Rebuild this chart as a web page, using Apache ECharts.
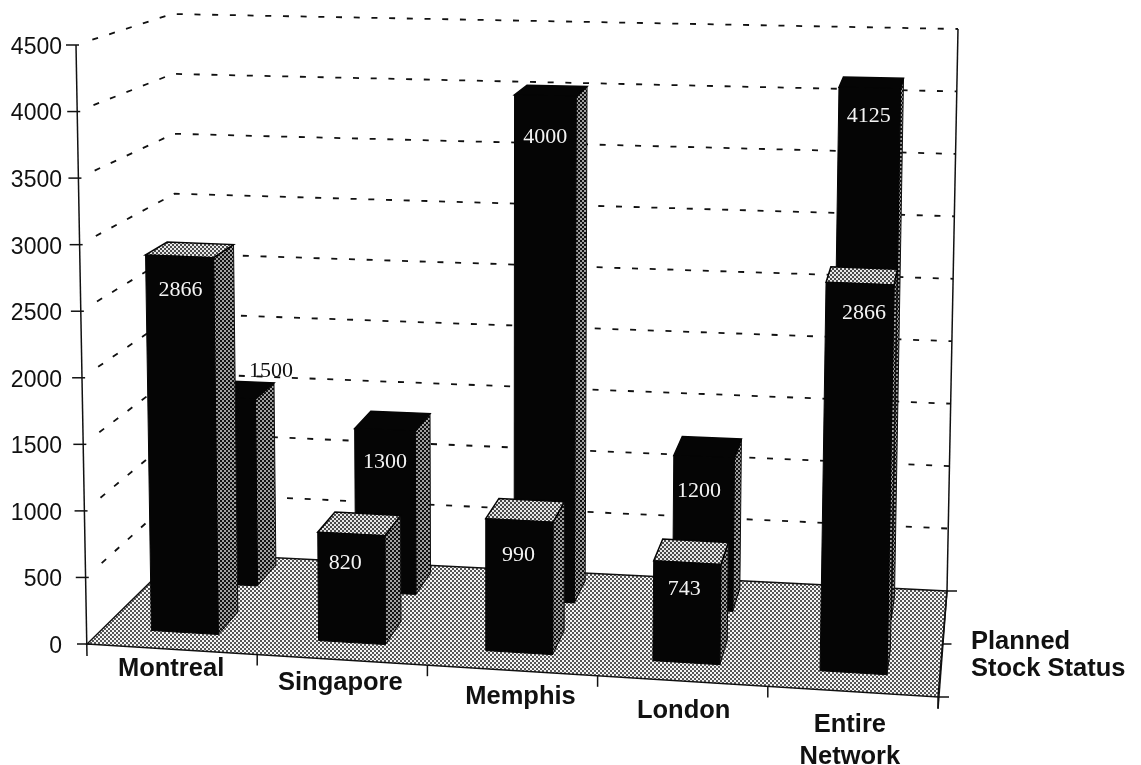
<!DOCTYPE html>
<html>
<head>
<meta charset="utf-8">
<title>Planned stock status by location</title>
<script src="https://cdn.jsdelivr.net/npm/echarts@6/dist/echarts.min.js"></script>
<style>
  html, body { margin: 0; padding: 0; background: #fff; }
  #chart { width: 1141px; height: 765px; }
</style>
</head>
<body>
<div id="chart"></div>
<script>
// Chart values
const categories = ['Montreal', 'Singapore', 'Memphis', 'London', 'Entire\nNetwork'];
const frontRowValues = [2866, 820, 990, 743, 2866];
const backRowValues = [1500, 1300, 4000, 1200, 4125];
const valueTicks = [0, 500, 1000, 1500, 2000, 2500, 3000, 3500, 4000, 4500];
const depthLabel = 'Planned\nStock Status';

// Screen corners of the floor, and the height and lean of the box above each corner.
const FLOOR = { a: [87, 644], b: [938, 697], c: [947, 591], d: [180, 553] };
const RISE = { a: 599, b: 625, c: 562, d: 539 };
const LEAN = { a: -11, b: 13, c: 11, d: -8 };

// Bar rows in depth, with small hand placements for the value captions.
const FRONT_ROW = {
  near: 0.18, far: 0.42, share: 0.4, shift: -0.003,
  nudge: [[1, 4], [-6, -1], [-1, 5], [-3, -3], [4, 0]]
};
const BACK_ROW = {
  near: 0.70, far: 0.925, share: 0.38, shift: -0.005,
  nudge: [[-3, 5], [0, 2], [0, 12], [-5, 4], [-1, -2]]
};
const NAME_NUDGE = [-1, -2, 8, 1, -3];

function blend(q, u, v) {
  return q.a * (1 - u) * (1 - v) + q.b * u * (1 - v) + q.c * u * v + q.d * (1 - u) * v;
}

// u: across the chart 0..1, v: into the chart 0..1, t: share of the value axis 0..1.
function project(u, v, t) {
  const fx = blend({ a: FLOOR.a[0], b: FLOOR.b[0], c: FLOOR.c[0], d: FLOOR.d[0] }, u, v);
  const fy = blend({ a: FLOOR.a[1], b: FLOOR.b[1], c: FLOOR.c[1], d: FLOOR.d[1] }, u, v);
  return [fx + t * blend(LEAN, u, v), fy - t * blend(RISE, u, v)];
}

function ditherPattern(cell, dark, light) {
  const c = document.createElement('canvas');
  c.width = c.height = cell * 2;
  const g = c.getContext('2d');
  g.fillStyle = light;
  g.fillRect(0, 0, cell * 2, cell * 2);
  g.fillStyle = dark;
  g.fillRect(0, 0, cell, cell);
  g.fillRect(cell, cell, cell, cell);
  return { image: c, repeat: 'repeat' };
}

const floorFill = ditherPattern(2, '#565656', '#f6f6f6');
const capFill = ditherPattern(2, '#4a4a4a', '#e8e8e8');
const sideFill = ditherPattern(2, '#111', '#a0a0a0');

// Helpers reading the library's scales inside renderItem.
function shareU(params, api, idx) {
  const cs = params.coordSys;
  return (api.coord([idx, 0])[0] - cs.x) / cs.width;
}
function shareT(params, api, value) {
  const cs = params.coordSys;
  return (cs.y + cs.height - api.coord([0, value])[1]) / cs.height;
}

const inkLine = { stroke: '#111', lineWidth: 1.5, fill: null };

function line(points, style) {
  return { type: 'polyline', shape: { points }, style: Object.assign({}, inkLine, style) };
}

// One dashed level running along the left wall and the back wall.
function renderLevel(params, api) {
  const t = shareT(params, api, api.value(1));
  const start = project(0, 0, t), corner = project(0, 1, t), end = project(1, 1, t);
  const s = 0.17;
  const first = [start[0] + (corner[0] - start[0]) * s, start[1] + (corner[1] - start[1]) * s];
  const children = [];
  if (api.value(1) > 0) {
    children.push(line([first, corner, end], { lineDash: [6, 11.7], lineWidth: 1.8 }));
  }
  children.push(line([[start[0] - 10, start[1]], [start[0] + 3, start[1]]], {}));
  return { type: 'group', children };
}

// Floor, axis frame and their tick marks.
function renderFloor(params, api) {
  const top = shareT(params, api, 4500);
  const A = project(0, 0, 0), B = project(1, 0, 0), C = project(1, 1, 0), D = project(0, 1, 0);
  const children = [
    { type: 'polygon', shape: { points: [A, B, C, D] },
      style: { fill: floorFill, stroke: '#111', lineWidth: 1.5 } },
    line([[A[0], A[1] + 12], project(0, 0, top)], {}),
    line([C, project(1, 1, top)], {}),
    line([[B[0], B[1] + 12], C], {}),
    line([C, [C[0] + 10, C[1]]], {}),
    line([B, [B[0] + 11, B[1]]], {})
  ];
  const mid = project(1, 0.5, 0);
  children.push(line([mid, [mid[0] + 9, mid[1]]], {}));
  for (let i = 1; i <= categories.length; i++) {
    const p = project(i / categories.length, 0, 0);
    children.push(line([p, [p[0], p[1] + 11]], {}));
  }
  children.push({
    type: 'text',
    style: { text: depthLabel, x: 971, y: 655, fill: '#111', font: 'bold 25.5px "Liberation Sans"',
             align: 'left', verticalAlign: 'middle', lineHeight: 27 }
  });
  return { type: 'group', children };
}

// Category names, stepping down along the slanted front edge.
function renderCategoryName(params, api) {
  const idx = api.value(0);
  const u = shareU(params, api, idx);
  const edge = project(u, 0, 0);
  return {
    type: 'text',
    style: { text: categories[idx], x: edge[0] + NAME_NUDGE[idx], y: edge[1] + 2.5 + 16 * u, fill: '#111',
             font: 'bold 25.5px "Liberation Sans"', align: 'center', verticalAlign: 'top', lineHeight: 32 }
  };
}

function barRenderer(row, capStyle) {
  return function (params, api) {
    const idx = api.value(0), value = api.value(1);
    const cs = params.coordSys;
    const u = shareU(params, api, idx) + row.shift;
    const half = api.size([1, 0])[0] * row.share / 2 / cs.width;
    const t = shareT(params, api, value);
    const l = u - half, r = u + half, n = row.near, f = row.far;

    const fbl = project(l, n, 0), fbr = project(r, n, 0), bbr = project(r, f, 0);
    const ftl = project(l, n, t), ftr = project(r, n, t), btr = project(r, f, t), btl = project(l, f, t);

    const children = [
      { type: 'polygon', shape: { points: [fbr, bbr, btr, ftr] },
        style: { fill: sideFill, stroke: '#111', lineWidth: 1 } },
      { type: 'polygon', shape: { points: [ftl, ftr, btr, btl] },
        style: { fill: capStyle, stroke: '#050505', lineWidth: 1.5 } },
      { type: 'polygon', shape: { points: [fbl, fbr, ftr, ftl] },
        style: { fill: '#050505', stroke: '#050505', lineWidth: 1 } }
    ];

    // The bar behind the Montreal column carries its value above the top.
    const hidden = params.seriesName === 'back row' && idx === 0;
    const textX = (hidden ? btr[0] : (ftl[0] + ftr[0]) / 2) + row.nudge[idx][0];
    const textY = (hidden ? btr[1] - 17 : (ftl[1] + ftr[1]) / 2 + 30) + row.nudge[idx][1];
    children.push({
      type: 'text',
      style: { text: String(value), x: textX, y: textY, fill: hidden ? '#111' : '#f4f4f4',
               font: '22px "Liberation Serif"', align: 'center', verticalAlign: 'middle' }
    });
    return { type: 'group', children };
  };
}

function toPairs(values) {
  return values.map((v, i) => [i, v]);
}

const chart = echarts.init(document.getElementById('chart'), null, { renderer: 'canvas' });
chart.setOption({
  animation: false,
  backgroundColor: '#fff',
  grid: { left: 87, right: 203, top: 44, bottom: 122 },
  xAxis: {
    type: 'category', data: categories,
    axisLine: { show: false }, axisTick: { show: false }, axisLabel: { show: false }, splitLine: { show: false }
  },
  yAxis: {
    type: 'value', min: 0, max: 4500, interval: 500,
    axisLine: { show: false }, axisTick: { show: false }, splitLine: { show: false },
    axisLabel: { margin: 25, color: '#111', fontSize: 23, fontFamily: 'Liberation Sans',
                 verticalAlign: 'top', lineHeight: 7, formatter: v => String(v) }
  },
  series: [
    { type: 'custom', name: 'floor', z: 1, renderItem: renderFloor, data: [[0, 0]], silent: true },
    { type: 'custom', name: 'levels', z: 2, renderItem: renderLevel,
      data: valueTicks.map(v => [0, v]), silent: true },
    { type: 'custom', name: 'names', z: 2, renderItem: renderCategoryName,
      data: categories.map((c, i) => [i, 0]), silent: true },
    { type: 'custom', name: 'back row', z: 3, renderItem: barRenderer(BACK_ROW, '#050505'),
      data: toPairs(backRowValues), silent: true },
    { type: 'custom', name: 'front row', z: 4, renderItem: barRenderer(FRONT_ROW, capFill),
      data: toPairs(frontRowValues), silent: true }
  ]
});
</script>
</body>
</html>
